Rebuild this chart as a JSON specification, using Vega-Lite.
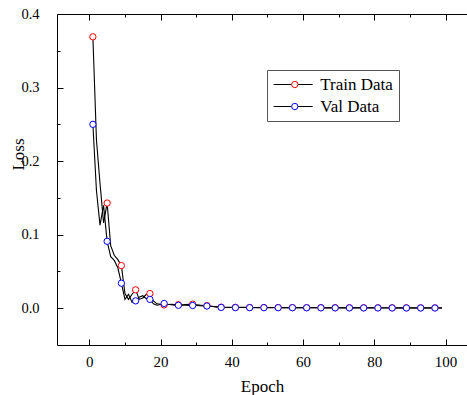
{
 "$schema": "https://vega.github.io/schema/vega-lite/v6.json",
 "width": 410, "height": 331,
 "autosize": {"type": "none"},
 "padding": {"left": 57, "top": 14, "right": 0, "bottom": 50},
 "config": {
  "view": {"stroke": null},
  "font": "Liberation Serif",
  "axis": {"grid": false, "domainColor": "black", "tickColor": "black", "labelColor": "black", "titleColor": "black", "labelFont": "Liberation Serif", "titleFont": "Liberation Serif", "titleFontWeight": "normal", "labelFlush": false, "labelOverlap": false}
 },
 "data": {"values": [
  {"epoch":1,"Train Data":0.369,"Val Data":0.250},
  {"epoch":2,"Train Data":0.229,"Val Data":0.160},
  {"epoch":3,"Train Data":0.170,"Val Data":0.113},
  {"epoch":4,"Train Data":0.116,"Val Data":0.140},
  {"epoch":5,"Train Data":0.143,"Val Data":0.091},
  {"epoch":6,"Train Data":0.085,"Val Data":0.070},
  {"epoch":7,"Train Data":0.072,"Val Data":0.065},
  {"epoch":8,"Train Data":0.066,"Val Data":0.055},
  {"epoch":9,"Train Data":0.058,"Val Data":0.034},
  {"epoch":10,"Train Data":0.020,"Val Data":0.012},
  {"epoch":11,"Train Data":0.012,"Val Data":0.019},
  {"epoch":12,"Train Data":0.019,"Val Data":0.008},
  {"epoch":13,"Train Data":0.025,"Val Data":0.010},
  {"epoch":14,"Train Data":0.012,"Val Data":0.015},
  {"epoch":15,"Train Data":0.014,"Val Data":0.017},
  {"epoch":16,"Train Data":0.019,"Val Data":0.013},
  {"epoch":17,"Train Data":0.020,"Val Data":0.012},
  {"epoch":18,"Train Data":0.010,"Val Data":0.006},
  {"epoch":19,"Train Data":0.006,"Val Data":0.004},
  {"epoch":20,"Train Data":0.0055,"Val Data":0.005},
  {"epoch":21,"Train Data":0.0045,"Val Data":0.0065},
  {"epoch":22,"Train Data":0.005,"Val Data":0.0055},
  {"epoch":23,"Train Data":0.0052,"Val Data":0.0048},
  {"epoch":24,"Train Data":0.005,"Val Data":0.0042},
  {"epoch":25,"Train Data":0.0048,"Val Data":0.004},
  {"epoch":26,"Train Data":0.0047,"Val Data":0.004},
  {"epoch":27,"Train Data":0.005,"Val Data":0.0041},
  {"epoch":28,"Train Data":0.0052,"Val Data":0.0039},
  {"epoch":29,"Train Data":0.0055,"Val Data":0.0037},
  {"epoch":30,"Train Data":0.0048,"Val Data":0.0036},
  {"epoch":31,"Train Data":0.0042,"Val Data":0.0034},
  {"epoch":32,"Train Data":0.0038,"Val Data":0.0032},
  {"epoch":33,"Train Data":0.0035,"Val Data":0.003},
  {"epoch":34,"Train Data":0.003,"Val Data":0.0026},
  {"epoch":35,"Train Data":0.0024,"Val Data":0.002},
  {"epoch":36,"Train Data":0.0018,"Val Data":0.0015},
  {"epoch":37,"Train Data":0.0014,"Val Data":0.0011},
  {"epoch":38,"Train Data":0.0013,"Val Data":0.001},
  {"epoch":39,"Train Data":0.0013,"Val Data":0.001},
  {"epoch":40,"Train Data":0.0012,"Val Data":0.001},
  {"epoch":41,"Train Data":0.0012,"Val Data":0.0009},
  {"epoch":42,"Train Data":0.0011,"Val Data":0.0009},
  {"epoch":43,"Train Data":0.0011,"Val Data":0.0009},
  {"epoch":44,"Train Data":0.0011,"Val Data":0.0009},
  {"epoch":45,"Train Data":0.001,"Val Data":0.0008},
  {"epoch":46,"Train Data":0.001,"Val Data":0.0008},
  {"epoch":47,"Train Data":0.001,"Val Data":0.0008},
  {"epoch":48,"Train Data":0.001,"Val Data":0.0008},
  {"epoch":49,"Train Data":0.00095,"Val Data":0.00075},
  {"epoch":50,"Train Data":0.00095,"Val Data":0.00075},
  {"epoch":51,"Train Data":0.0009,"Val Data":0.0007},
  {"epoch":52,"Train Data":0.0009,"Val Data":0.0007},
  {"epoch":53,"Train Data":0.0009,"Val Data":0.0007},
  {"epoch":54,"Train Data":0.00088,"Val Data":0.0007},
  {"epoch":55,"Train Data":0.00085,"Val Data":0.00068},
  {"epoch":56,"Train Data":0.00085,"Val Data":0.00066},
  {"epoch":57,"Train Data":0.00083,"Val Data":0.00065},
  {"epoch":58,"Train Data":0.0008,"Val Data":0.00064},
  {"epoch":59,"Train Data":0.0008,"Val Data":0.00062},
  {"epoch":60,"Train Data":0.0008,"Val Data":0.0006},
  {"epoch":61,"Train Data":0.00078,"Val Data":0.0006},
  {"epoch":62,"Train Data":0.00076,"Val Data":0.00058},
  {"epoch":63,"Train Data":0.00075,"Val Data":0.00057},
  {"epoch":64,"Train Data":0.00074,"Val Data":0.00056},
  {"epoch":65,"Train Data":0.00072,"Val Data":0.00055},
  {"epoch":66,"Train Data":0.0007,"Val Data":0.00054},
  {"epoch":67,"Train Data":0.0007,"Val Data":0.00052},
  {"epoch":68,"Train Data":0.00068,"Val Data":0.0005},
  {"epoch":69,"Train Data":0.00067,"Val Data":0.0005},
  {"epoch":70,"Train Data":0.00066,"Val Data":0.00049},
  {"epoch":71,"Train Data":0.00065,"Val Data":0.00048},
  {"epoch":72,"Train Data":0.00064,"Val Data":0.00047},
  {"epoch":73,"Train Data":0.00063,"Val Data":0.00046},
  {"epoch":74,"Train Data":0.00062,"Val Data":0.00045},
  {"epoch":75,"Train Data":0.00061,"Val Data":0.00045},
  {"epoch":76,"Train Data":0.0006,"Val Data":0.00044},
  {"epoch":77,"Train Data":0.0006,"Val Data":0.00043},
  {"epoch":78,"Train Data":0.00059,"Val Data":0.00042},
  {"epoch":79,"Train Data":0.00058,"Val Data":0.00042},
  {"epoch":80,"Train Data":0.00057,"Val Data":0.00041},
  {"epoch":81,"Train Data":0.00057,"Val Data":0.0004},
  {"epoch":82,"Train Data":0.00056,"Val Data":0.0004},
  {"epoch":83,"Train Data":0.00055,"Val Data":0.00039},
  {"epoch":84,"Train Data":0.00055,"Val Data":0.00038},
  {"epoch":85,"Train Data":0.00054,"Val Data":0.00038},
  {"epoch":86,"Train Data":0.00053,"Val Data":0.00037},
  {"epoch":87,"Train Data":0.00053,"Val Data":0.00037},
  {"epoch":88,"Train Data":0.00052,"Val Data":0.00036},
  {"epoch":89,"Train Data":0.00052,"Val Data":0.00036},
  {"epoch":90,"Train Data":0.00051,"Val Data":0.00035},
  {"epoch":91,"Train Data":0.0005,"Val Data":0.00035},
  {"epoch":92,"Train Data":0.0005,"Val Data":0.00034},
  {"epoch":93,"Train Data":0.0005,"Val Data":0.00034},
  {"epoch":94,"Train Data":0.00049,"Val Data":0.00033},
  {"epoch":95,"Train Data":0.00049,"Val Data":0.00033},
  {"epoch":96,"Train Data":0.00048,"Val Data":0.00032},
  {"epoch":97,"Train Data":0.00048,"Val Data":0.00032},
  {"epoch":98,"Train Data":0.00047,"Val Data":0.00031},
  {"epoch":99,"Train Data":0.00047,"Val Data":0.00031}
 ]},
 "transform": [{"fold": ["Train Data", "Val Data"], "as": ["series", "loss"]}],
 "layer": [
  {
   "mark": {"type": "line", "strokeWidth": 1.1},
   "encoding": {
    "x": {"field": "epoch", "type": "quantitative",
     "scale": {"domain": [-9.07, 106], "nice": false, "zero": false},
     "axis": {"orient": "bottom", "title": "Epoch", "values": [0,10,20,30,40,50,60,70,80,90,100],
      "labelExpr": "datum.value % 20 == 0 ? datum.label : ''",
      "tickSize": {"condition": {"test": "datum.value % 20 != 0", "value": -3}, "value": -6},
      "labelFontSize": 15, "labelPadding": 15, "titleFontSize": 17, "titlePadding": 6}},
    "y": {"field": "loss", "type": "quantitative",
     "scale": {"domain": [-0.05, 0.4], "nice": false, "zero": false},
     "axis": {"orient": "left", "title": "Loss", "values": [0,0.05,0.1,0.15,0.2,0.25,0.3,0.35,0.4],
      "labelExpr": "round(datum.value*100) % 10 == 0 ? format(datum.value, '.1f') : ''",
      "tickSize": {"condition": {"test": "round(datum.value*100) % 10 != 0", "value": -3}, "value": -6},
      "labelFontSize": 14.5, "labelPadding": 24, "titleFontSize": 17, "titleX": -30, "titleY": 140}},
    "stroke": {"field": "series", "type": "nominal", "scale": {"range": ["black", "black"]},
     "legend": {"title": null, "orient": "none", "legendX": 210, "legendY": 56, "strokeColor": "#555", "padding": 6,
      "symbolType": "M-1.62,0H6.39", "symbolSize": 95, "symbolStrokeWidth": 1.1, "labelFontSize": 17, "labelFont": "Liberation Serif",
      "labelColor": "black", "labelOffset": 30.25, "rowPadding": 4}}
   }
  },
  {
   "transform": [{"filter": "datum.epoch % 4 == 1"}],
   "mark": {"type": "point", "shape": "circle", "filled": false, "fill": "white", "size": 40, "strokeWidth": 1, "opacity": 1},
   "encoding": {
    "x": {"field": "epoch", "type": "quantitative",
     "axis": {"orient": "top", "title": null, "labels": false, "values": [0,10,20,30,40,50,60,70,80,90,100],
      "tickSize": {"condition": {"test": "datum.value % 20 != 0", "value": -3}, "value": -6}}},
    "y": {"field": "loss", "type": "quantitative"},
    "color": {"field": "series", "type": "nominal", "scale": {"domain": ["Train Data", "Val Data"], "range": ["#ff0000", "#0000ff"]},
     "legend": {"title": null, "orient": "none", "legendX": 210, "legendY": 56, "padding": 6, "symbolType": "circle", "symbolSize": 40,
      "symbolStrokeWidth": 1, "symbolFillColor": "white", "symbolOffset": 13.3, "labelFontSize": 17, "labelFont": "Liberation Serif",
      "labelExpr": "''", "rowPadding": 4}}
   }
  }
 ]
}
